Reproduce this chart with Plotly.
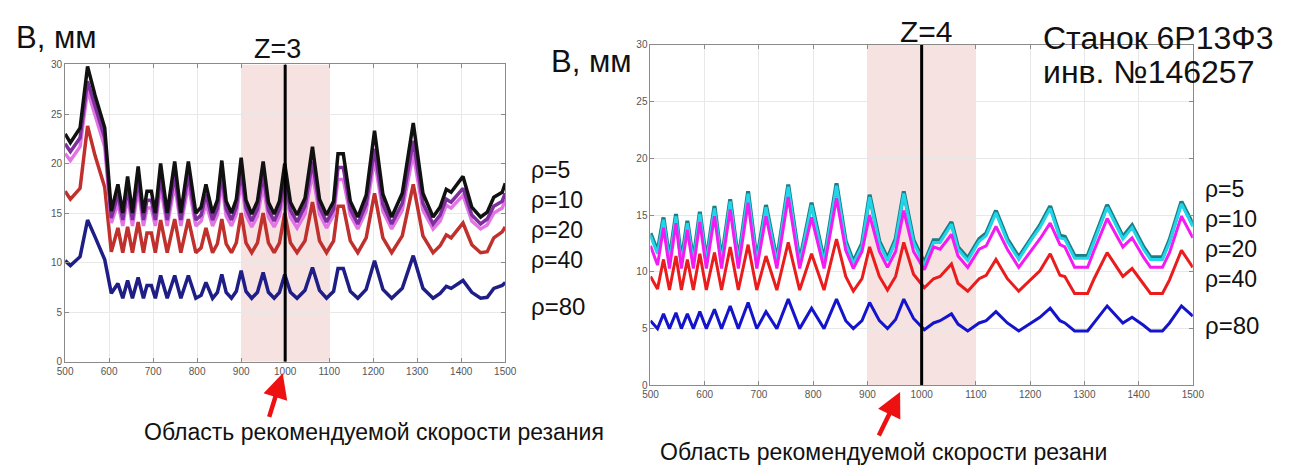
import plotly.graph_objects as go

W, H = 1303, 470

# ---------------- data: left chart (Z=3) ----------------
left_x = [500, 512, 534, 551, 568, 590, 605, 620, 631, 642, 653, 666, 678, 686, 696, 705,
          717, 732, 749, 763, 780, 797, 809, 820, 835, 846, 856, 866, 878, 889, 900, 911,
          924, 937, 950, 962, 975, 987, 999, 1012, 1027, 1045, 1062, 1078, 1094, 1110, 1120,
          1132, 1148, 1165, 1184, 1203, 1222, 1242, 1266, 1291, 1313, 1336, 1352, 1366, 1377,
          1404, 1424, 1444, 1459, 1474, 1493, 1500]
left_rho5 = [23.0, 22.1, 23.6, 29.8, 26.9, 23.6,
             15.2, 17.9, 15.0, 18.7, 15.0,
             19.7, 15.0, 17.2, 17.2, 15.0,
             20.0, 15.0, 20.2, 15.0, 20.2,
             15.0, 15.6, 17.9, 15.0, 16.3,
             20.3, 16.2, 15.0, 16.4, 20.6,
             16.3, 14.9, 16.2, 20.2, 16.1,
             14.9, 16.2, 20.0, 16.1, 14.8,
             16.5, 21.7, 16.4, 14.8, 16.2,
             21.0, 21.0, 16.2, 14.6, 16.8,
             23.3, 16.9, 14.6, 17.0, 24.1,
             17.0, 14.6, 15.6, 17.4, 17.1,
             18.7, 15.6, 14.6, 15.1, 16.6,
             17.1, 18.0]
left_rho10 = [22.0, 21.2, 22.6, 28.3, 25.8, 22.6,
              14.5, 16.9, 14.3, 17.6, 14.3,
              18.5, 14.3, 16.3, 16.3, 14.3,
              18.7, 14.3, 18.9, 14.3, 18.9,
              14.3, 14.8, 16.9, 14.3, 15.5,
              19.0, 15.4, 14.3, 15.6, 19.3,
              15.5, 14.2, 15.4, 18.9, 15.3,
              14.2, 15.4, 18.7, 15.3, 14.1,
              15.7, 20.2, 15.6, 14.1, 15.4,
              19.6, 19.6, 15.4, 13.9, 15.9,
              21.5, 15.9, 13.9, 16.0, 22.3,
              16.0, 13.9, 14.8, 16.4, 16.1,
              17.5, 14.8, 13.9, 14.4, 15.7,
              16.2, 17.0]
left_rho20 = [21.0, 20.3, 21.7, 27.4, 24.9, 21.7,
              14.0, 16.0, 13.7, 16.7, 13.7,
              17.5, 13.7, 15.5, 15.5, 13.7,
              17.7, 13.7, 17.9, 13.7, 17.9,
              13.7, 14.2, 16.0, 13.7, 14.8,
              18.0, 14.7, 13.7, 14.9, 18.2,
              14.8, 13.6, 14.7, 17.8, 14.6,
              13.6, 14.7, 17.6, 14.6, 13.5,
              14.9, 19.0, 14.9, 13.5, 14.8,
              18.4, 18.4, 14.8, 13.4, 15.2,
              20.4, 15.2, 13.4, 15.3, 21.0,
              15.3, 13.4, 14.2, 15.8, 15.5,
              16.8, 14.2, 13.4, 13.8, 15.0,
              15.5, 16.3]
left_rho40 = [17.2, 16.4, 17.5, 23.8, 20.8, 17.6,
              11.1, 13.5, 11.0, 13.6, 11.0,
              14.1, 11.0, 13.0, 13.0, 11.0,
              14.3, 11.0, 14.4, 11.0, 14.4,
              11.0, 11.5, 13.5, 11.0, 11.9,
              14.4, 11.9, 11.0, 12.0, 15.0,
              12.0, 11.0, 12.0, 15.0, 12.0,
              11.0, 12.0, 15.0, 12.0, 11.0,
              12.2, 16.1, 12.2, 11.0, 12.2,
              15.7, 15.7, 12.2, 11.0, 12.5,
              17.0, 12.5, 11.0, 12.7, 17.9,
              12.7, 11.0, 11.7, 12.8, 12.5,
              14.0, 11.8, 11.0, 11.1, 12.5,
              13.1, 13.6]
left_rho80 = [10.2, 9.7, 10.6, 14.3, 12.6, 10.3,
              6.9, 7.9, 6.4, 8.2, 6.4,
              8.5, 6.4, 7.7, 7.7, 6.4,
              8.7, 6.4, 8.7, 6.4, 8.7,
              6.4, 6.7, 8.0, 6.4, 7.0,
              8.8, 7.0, 6.4, 7.1, 9.2,
              7.1, 6.4, 7.0, 9.0, 7.0,
              6.4, 7.0, 8.8, 7.0, 6.4,
              7.2, 9.5, 7.2, 6.4, 7.1,
              9.4, 9.4, 7.1, 6.4, 7.3,
              10.2, 7.3, 6.4, 7.4, 10.7,
              7.4, 6.4, 6.9, 7.6, 7.4,
              8.2, 7.0, 6.4, 6.5, 7.4,
              7.7, 8.0]

# ---------------- data: right chart (Z=4) ----------------
right_x = [500, 513, 524, 535, 547, 557, 568, 579, 591, 603, 618, 631, 647, 662, 680, 696,
           713, 733, 754, 775, 797, 820, 843, 860, 874, 890, 904, 922, 937, 952, 967, 985,
           1005, 1022, 1034, 1055, 1067, 1085, 1106, 1119, 1137, 1158, 1179, 1203, 1218,
           1237, 1255, 1264, 1282, 1306, 1318, 1342, 1371, 1388, 1409, 1422, 1444, 1457,
           1479, 1500]
right_rho5 = [13.4, 11.8, 14.8, 11.1, 15.1,
              10.9, 14.5, 11.0, 15.3, 11.0,
              15.8, 11.0, 16.4, 11.0, 17.1,
              11.0, 15.9, 11.0, 17.7, 10.9,
              16.1, 11.0, 17.8, 12.7, 10.9,
              12.5, 16.8, 12.7, 11.2, 12.9,
              17.1, 12.8, 10.8, 12.8, 12.8,
              14.4, 12.2, 11.2, 12.9, 13.4,
              15.4, 12.9, 11.3, 13.1, 14.1,
              15.8, 13.2, 13.1, 11.4, 11.4,
              12.9, 15.9, 13.1, 14.1, 12.2,
              11.3, 11.3, 12.8, 16.2, 14.2]
right_rho10 = [13.2, 11.6, 14.6, 10.9, 14.9,
               10.7, 14.3, 10.8, 15.1, 10.8,
               15.6, 10.8, 16.2, 10.8, 16.9,
               10.8, 15.7, 10.8, 17.5, 10.7,
               15.9, 10.8, 17.6, 12.5, 10.7,
               12.3, 16.6, 12.5, 11.0, 12.7,
               16.9, 12.6, 10.6, 12.6, 12.6,
               14.2, 12.0, 11.0, 12.7, 13.2,
               15.2, 12.7, 11.1, 12.9, 13.9,
               15.6, 13.0, 12.9, 11.2, 11.2,
               12.7, 15.7, 12.9, 13.9, 12.0,
               11.1, 11.1, 12.6, 16.0, 14.0]
right_rho20 = [12.3, 10.6, 13.9, 10.3, 14.3,
               10.3, 13.7, 10.3, 14.4, 10.3,
               14.9, 10.3, 15.5, 10.3, 16.1,
               10.3, 14.9, 10.3, 16.6, 10.3,
               14.8, 10.3, 16.5, 11.9, 10.3,
               11.8, 15.0, 11.8, 10.4, 11.8,
               15.4, 11.8, 10.2, 12.2, 12.0,
               13.3, 11.4, 10.4, 12.0, 12.3,
               14.0, 12.0, 10.4, 12.0, 12.9,
               14.3, 12.4, 12.2, 10.4, 10.4,
               11.9, 14.7, 12.2, 13.0, 11.3,
               10.4, 10.4, 11.7, 14.9, 13.0]
right_rho40 = [9.6, 8.5, 11.1, 8.4, 11.4,
               8.4, 11.1, 8.4, 11.6, 8.4,
               11.7, 8.4, 12.2, 8.4, 12.4,
               8.4, 11.4, 8.4, 12.6, 8.4,
               11.6, 8.4, 12.9, 9.6, 8.3,
               9.4, 12.2, 9.6, 8.4, 9.6,
               12.6, 9.8, 8.6, 9.4, 9.6,
               10.7, 9.0, 8.3, 9.4, 9.7,
               11.1, 9.4, 8.3, 9.4, 10.1,
               11.6, 9.7, 9.6, 8.1, 8.1,
               9.4, 11.7, 9.6, 10.3, 9.0,
               8.1, 8.1, 9.3, 11.9, 10.4]
right_rho80 = [5.7, 5.0, 6.3, 5.0, 6.4,
               5.0, 6.3, 5.0, 6.5, 5.0,
               6.7, 5.0, 7.0, 5.0, 7.3,
               5.0, 6.5, 5.0, 7.6, 5.0,
               6.8, 5.0, 7.6, 5.7, 5.0,
               5.7, 7.3, 5.7, 5.0, 5.8,
               7.6, 5.9, 4.9, 5.5, 5.7,
               6.3, 5.4, 4.8, 5.5, 5.7,
               6.5, 5.5, 4.8, 5.5, 6.0,
               6.8, 5.7, 5.5, 4.8, 4.8,
               5.5, 7.0, 5.5, 6.0, 5.3,
               4.8, 4.8, 5.5, 7.0, 6.1]

rho_labels = ["ρ=5", "ρ=10", "ρ=20", "ρ=40", "ρ=80"]
x_ticks = [500, 600, 700, 800, 900, 1000, 1100, 1200, 1300, 1400, 1500]
y_ticks = [0, 5, 10, 15, 20, 25, 30]
zone = [900, 1100]
v_recommended = 1000

FONT = "Liberation Sans, Arial, sans-serif"


def px(x):
    return x / W


def py(y):
    return 1 - y / H


fig = go.Figure()

left_series = [
    (left_rho80, "#1e1e86", 3.5),
    (left_rho40, "#c0302c", 3.5),
    (left_rho20, "#e274e6", 3.5),
    (left_rho10, "#7e2f9e", 3.5),
    (left_rho5, "#111111", 3.5),
]
for ys, col, w in left_series:
    fig.add_trace(go.Scatter(x=left_x, y=ys, mode="lines", xaxis="x", yaxis="y",
                             line=dict(color=col, width=w), showlegend=False, hoverinfo="skip"))

right_series = [
    (right_rho5, "#1b7d86", 4.0),
    (right_rho10, "#22d6ea", 3.0),
    (right_rho20, "#f21cf2", 3.0),
    (right_rho40, "#ea1c1c", 3.0),
    (right_rho80, "#1414cc", 3.0),
]
for ys, col, w in right_series:
    fig.add_trace(go.Scatter(x=right_x, y=ys, mode="lines", xaxis="x2", yaxis="y2",
                             line=dict(color=col, width=w), showlegend=False, hoverinfo="skip"))

axis_common = dict(
    showgrid=True, gridcolor="#e8e8e8", gridwidth=1,
    showline=True, linecolor="#8a8a8a", linewidth=1, mirror="ticks",
    ticks="inside", ticklen=4, tickcolor="#8a8a8a",
    tickfont=dict(family=FONT, size=10, color="#555555"),
    zeroline=False, fixedrange=True,
)

fig.update_layout(
    width=W, height=H,
    margin=dict(l=0, r=0, t=0, b=0),
    paper_bgcolor="white", plot_bgcolor="white",
    xaxis=dict(domain=[px(58), px(505)], range=[500, 1500], tickvals=x_ticks,
               anchor="y", **axis_common),
    yaxis=dict(domain=[py(365), py(60)], range=[0, 30], tickvals=y_ticks,
               anchor="x", **axis_common),
    xaxis2=dict(domain=[px(652.5), px(1203.3)], range=[500, 1500], tickvals=x_ticks,
                anchor="y2", **axis_common),
    yaxis2=dict(domain=[py(389.3), py(40)], range=[0, 30], tickvals=y_ticks,
                anchor="x2", **axis_common),
)

shapes = []
for xr, yr in (("x", "y"), ("x2", "y2")):
    shapes.append(dict(type="rect", xref=xr, yref=yr, x0=zone[0], x1=zone[1], y0=0, y1=30,
                       fillcolor="rgba(238,190,190,0.45)", line=dict(width=0), layer="below"))
    shapes.append(dict(type="line", xref=xr, yref=yr, x0=v_recommended, x1=v_recommended,
                       y0=0, y1=30, line=dict(color="#000000", width=3), layer="above"))
fig.update_layout(shapes=shapes)

ann = []


def text(t, x, y, size, xanchor="left", yanchor="middle"):
    ann.append(dict(text=t, x=px(x), y=py(y), xref="paper", yref="paper",
                    xanchor=xanchor, yanchor=yanchor, showarrow=False, align="left",
                    borderpad=0,
                    font=dict(family=FONT, size=size, color="#111111")))


text("В, мм", 7, 32, 31)
text("Z=3", 274, 44, 27, xanchor="center")
text("В, мм", 550, 57, 31)
text("Z=4", 933, 26, 30, xanchor="center")
text("Станок 6Р13Ф3", 1050, 33, 32)
text("инв. №146257", 1050, 68, 32)

# stacked labels rho=5..rho=40 as one block, rho=80 separately
stack = "<br>".join(rho_labels[:4])
text(stack, 530, 214, 23)
text(rho_labels[4], 530, 308, 24)
text(stack, 1215, 234, 23)
text(rho_labels[4], 1215, 328, 24)

text("Область рекомендуемой скорости резания", 372, 437, 23, xanchor="center")
text("Область рекомендуемой скорости резани", 889, 458, 23, xanchor="center")

for (hx, hy, ax, ay) in ((279, 377, -14, 45), (906, 396, -22, 45)):
    ann.append(dict(text="", x=px(hx), y=py(hy), xref="paper", yref="paper",
                    showarrow=True, ax=ax, ay=ay, arrowcolor="#ee1111",
                    arrowwidth=4.5, arrowhead=2, arrowsize=1.1, standoff=0))

fig.update_layout(annotations=ann)

fig.write_html("out.html")
